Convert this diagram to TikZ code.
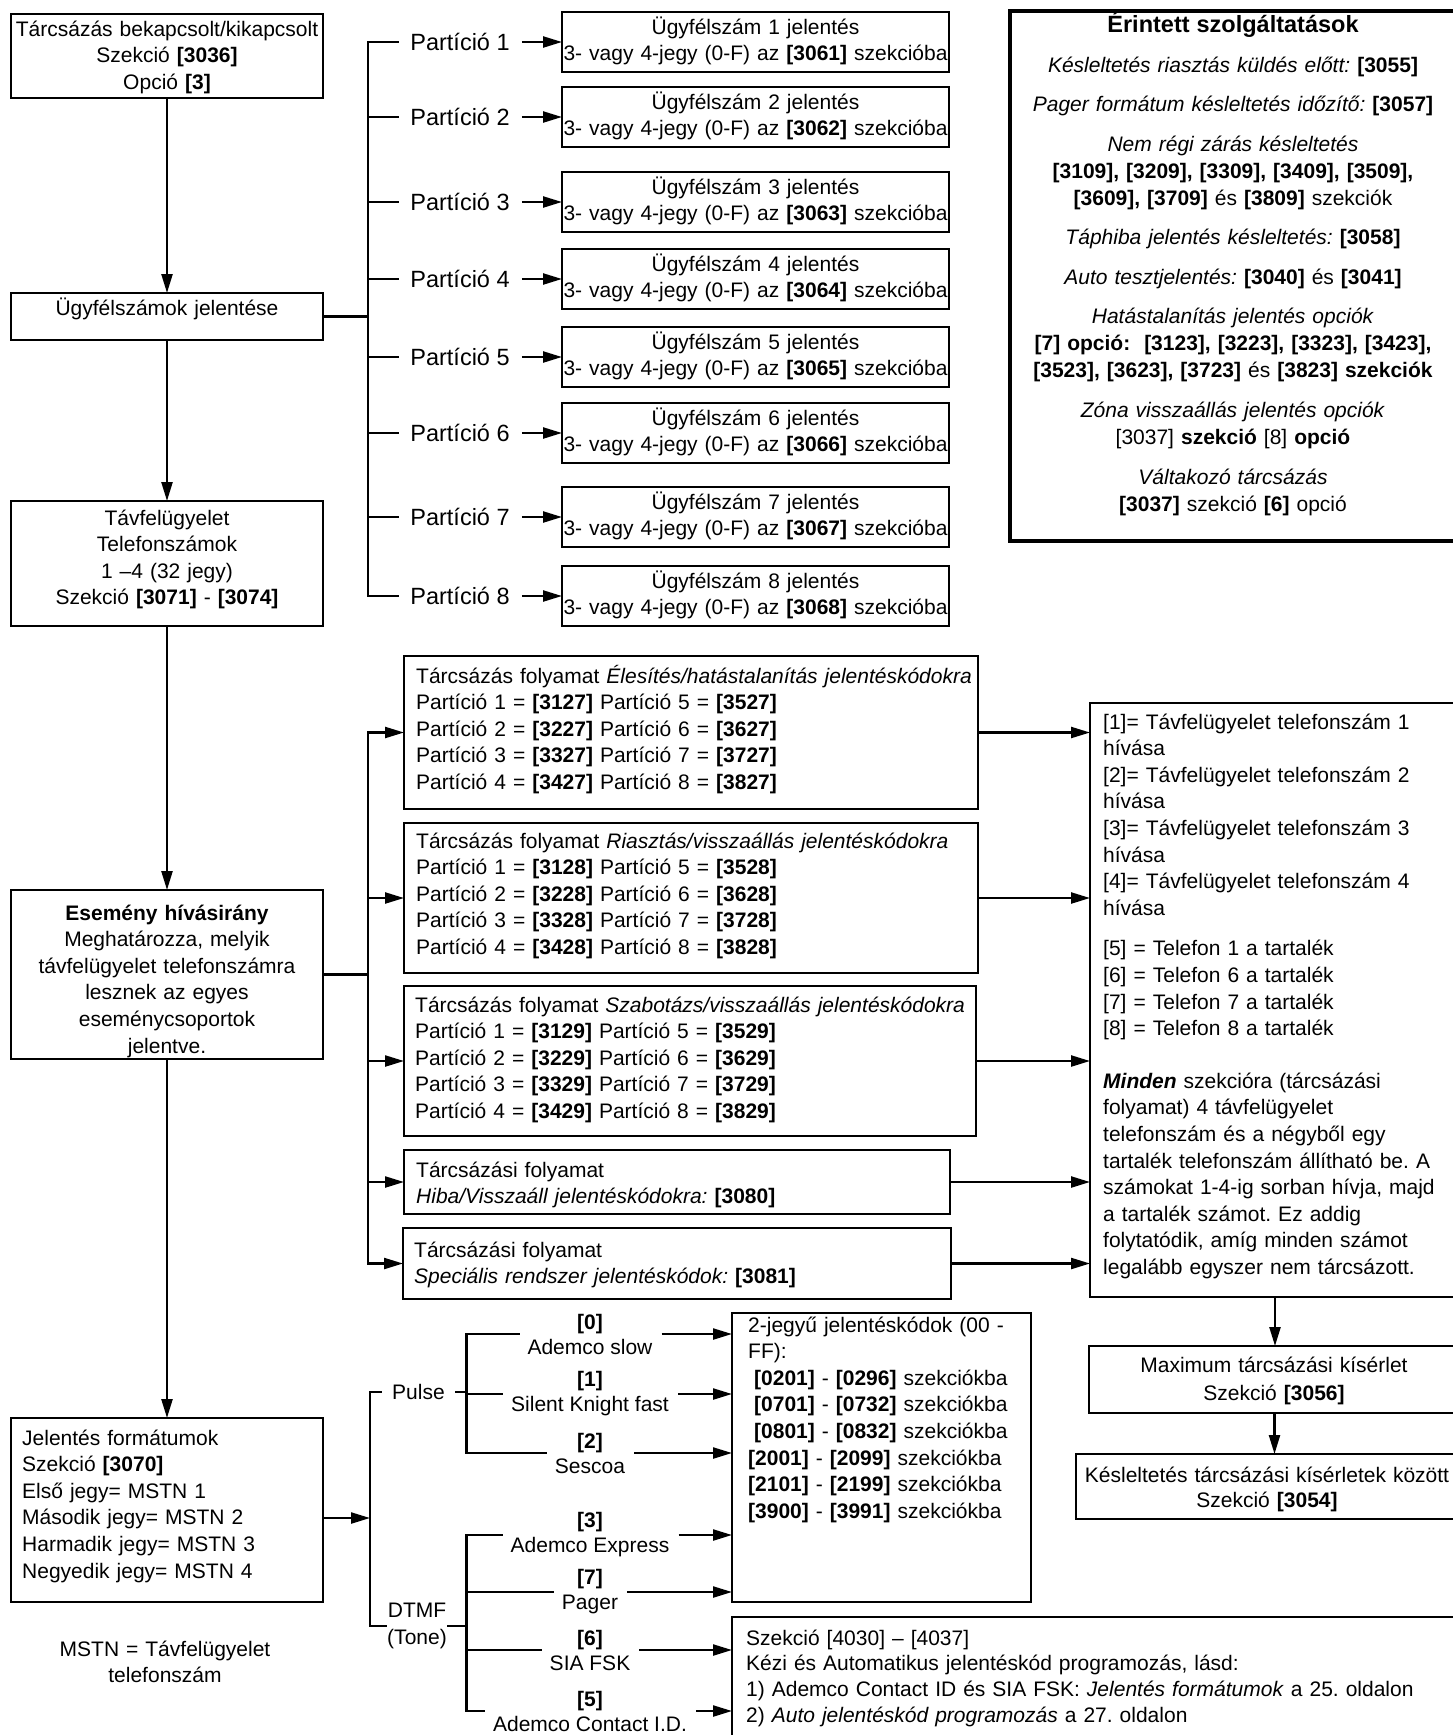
\documentclass[tikz,border=0pt]{standalone}
\usepackage{fontspec}
\setmainfont{Liberation Sans}
\usetikzlibrary{arrows.meta}
\frenchspacing
\newcommand{\fsN}{\fontsize{21pt}{26.6pt}\selectfont}
\newcommand{\fsL}{\fontsize{23.5pt}{28pt}\selectfont}
\tikzset{
  bx/.style={draw, line width=2.3pt, inner sep=0pt, outer sep=0pt},
  ln/.style={line width=2.3pt, line cap=rect},
  arr/.style={line width=2.3pt, -{Triangle[length=19pt,width=11pt]}},
  tc/.style={inner sep=0pt, font=\fsN, align=center, anchor=base},
  tl/.style={inner sep=0pt, font=\fsN, align=left, anchor=base west},
  plab/.style={inner ysep=0pt, inner xsep=12pt, font=\fsL},
  fmt/.style={inner ysep=0pt, inner xsep=9pt, font=\fontsize{21pt}{25pt}\selectfont, align=center},
}
\begin{document}
\frenchspacing
\begin{tikzpicture}[x=1pt,y=-1pt]
\useasboundingbox (0,0) rectangle (1453,1735);
\fill[white] (0,0) rectangle (1453,1735);

% ---------- left column ----------
\node[bx, minimum width=312pt, minimum height=84pt] (b1) at (167,56) {};
\node[tc, text width=320pt] (t1) at (167,36) {Tárcsázás bekapcsolt/kikapcsolt\\Szekció \textbf{[3036]}\\Opció \textbf{[3]}};
\node[bx, minimum width=312pt, minimum height=47pt] (b2) at (167,316.5) {};
\node[tc, text width=310pt] (t2) at (167,315) {Ügyfélszámok jelentése};
\node[bx, minimum width=312pt, minimum height=125pt] (b3) at (167,563.5) {};
\node[tc, text width=310pt] (t3) at (167,525) {Távfelügyelet\\Telefonszámok\\1 –4 (32 jegy)\\Szekció \textbf{[3071]} - \textbf{[3074]}};
\node[bx, minimum width=312pt, minimum height=169pt] (b4) at (167,974.5) {};
\node[tc, text width=310pt] (t4) at (167,920) {\textbf{Esemény hívásirány}\\Meghatározza, melyik\\távfelügyelet telefonszámra\\lesznek az egyes\\eseménycsoportok\\jelentve.};
\node[bx, minimum width=312pt, minimum height=184pt] (b5) at (167,1510) {};
\node[tl, text width=300pt] (t5) at (22,1445) {Jelentés formátumok\\Szekció \textbf{[3070]}\\Első jegy= MSTN 1\\Második jegy= MSTN 2\\Harmadik jegy= MSTN 3\\Negyedik jegy= MSTN 4};
\node[tc, text width=300pt] (mstn) at (165,1656) {MSTN = Távfelügyelet\\telefonszám};

\draw[arr] (b1) -- (b2);
\draw[arr] (b2) -- (b3);
\draw[arr] (b3) -- (b4);
\draw[arr] (b4) -- (b5);

% ---------- partitions ----------
\coordinate (bus1) at (368,0);
\foreach \i/\yy in {1/12,2/87,3/172,4/249,5/327,6/403,7/487,8/566}{
  \node[bx, minimum width=387pt, minimum height=60pt] (p\i) at (755.5,\yy+30) {};
  \node[tc, text width=390pt, font=\fontsize{21pt}{26pt}\selectfont] (tp\i) at (755.5,\yy+22) {Ügyfélszám \i{} jelentés\\3- vagy 4-jegy (0-F) az \textbf{[306\i]} szekcióba};
  \node[plab] (lp\i) at (460,\yy+30) {Partíció \i};
  \draw[ln] (bus1 |- lp\i) -- (lp\i.west);
  \draw[arr] (lp\i.east) -- (p\i.west);
}
\draw[ln] (bus1 |- lp1) -- (bus1 |- lp8);
\draw[ln] (b2.east) -- (b2.east -| bus1);

% ---------- services box ----------
\node[draw, line width=3.5pt, inner sep=0pt, minimum width=460pt, minimum height=530pt] (eb) at (1240,276) {};
\node[tc, text width=440pt] (et) at (1233,32) {{\fsL\textbf{Érintett szolgáltatások}}\\[14pt]
\textit{Késleltetés riasztás küldés előtt:} \textbf{[3055]}\\[12pt]
\textit{Pager formátum késleltetés időzítő:} \textbf{[3057]}\\[14pt]
\textit{Nem régi zárás késleltetés}\\
\textbf{[3109], [3209], [3309], [3409], [3509],}\\
\textbf{[3609], [3709]} és \textbf{[3809]} szekciók\\[12.5pt]
\textit{Táphiba jelentés késleltetés:} \textbf{[3058]}\\[14pt]
\textit{Auto tesztjelentés:} \textbf{[3040]} és \textbf{[3041]}\\[12.5pt]
\textit{Hatástalanítás jelentés opciók}\\
\textbf{[7] opció:\ \ [3123], [3223], [3323], [3423],}\\
\textbf{[3523], [3623], [3723]} és \textbf{[3823] szekciók}\\[14pt]
\textit{Zóna visszaállás jelentés opciók}\\
{}[3037] \textbf{szekció} [8] \textbf{opció}\\[14pt]
\textit{Váltakozó tárcsázás}\\
\textbf{[3037]} szekció \textbf{[6]} opció};

% ---------- dialling boxes ----------
\coordinate (bus2) at (368,0);
\node[bx, minimum width=574pt, minimum height=153pt] (A) at (691,732.5) {};
\node[tl, text width=570pt] (tA) at (416,683) {Tárcsázás folyamat \textit{Élesítés/hatástalanítás jelentéskódokra}\\
Partíció 1 = \textbf{[3127]} Partíció 5 = \textbf{[3527]}\\
Partíció 2 = \textbf{[3227]} Partíció 6 = \textbf{[3627]}\\
Partíció 3 = \textbf{[3327]} Partíció 7 = \textbf{[3727]}\\
Partíció 4 = \textbf{[3427]} Partíció 8 = \textbf{[3827]}};
\node[bx, minimum width=574pt, minimum height=150pt] (B) at (691,898) {};
\node[tl, text width=570pt] (tB) at (416,848) {Tárcsázás folyamat \textit{Riasztás/visszaállás jelentéskódokra}\\
Partíció 1 = \textbf{[3128]} Partíció 5 = \textbf{[3528]}\\
Partíció 2 = \textbf{[3228]} Partíció 6 = \textbf{[3628]}\\
Partíció 3 = \textbf{[3328]} Partíció 7 = \textbf{[3728]}\\
Partíció 4 = \textbf{[3428]} Partíció 8 = \textbf{[3828]}};
\node[bx, minimum width=572pt, minimum height=150pt] (C) at (690,1061) {};
\node[tl, text width=570pt] (tC) at (415,1012) {Tárcsázás folyamat \textit{Szabotázs/visszaállás jelentéskódokra}\\
Partíció 1 = \textbf{[3129]} Partíció 5 = \textbf{[3529]}\\
Partíció 2 = \textbf{[3229]} Partíció 6 = \textbf{[3629]}\\
Partíció 3 = \textbf{[3329]} Partíció 7 = \textbf{[3729]}\\
Partíció 4 = \textbf{[3429]} Partíció 8 = \textbf{[3829]}};
\node[bx, minimum width=546pt, minimum height=64pt] (D) at (677,1182) {};
\node[tl, text width=540pt] (tD) at (416,1177) {Tárcsázási folyamat\\\textit{Hiba/Visszaáll jelentéskódokra:} \textbf{[3080]}};
\node[bx, minimum width=548pt, minimum height=71pt] (E) at (677,1263.5) {};
\node[tl, text width=540pt] (tE) at (414,1257) {Tárcsázási folyamat\\\textit{Speciális rendszer jelentéskódok:} \textbf{[3081]}};

\foreach \nn in {A,B,C,D,E} \draw[arr] (\nn.west -| bus2) -- (\nn.west);
\draw[ln] (A.west -| bus2) -- (E.west -| bus2);
\draw[ln] (b4.east) -- (b4.east -| bus2);

% ---------- right column ----------
\node[bx, minimum width=370pt, minimum height=594pt] (rb) at (1275,1000) {};
\node[tl, text width=360pt] (trb) at (1103,729) {{}[1]= Távfelügyelet telefonszám 1\\hívása\\
{}[2]= Távfelügyelet telefonszám 2\\hívása\\
{}[3]= Távfelügyelet telefonszám 3\\hívása\\
{}[4]= Távfelügyelet telefonszám 4\\hívása\\[14pt]
{}[5] = Telefon 1 a tartalék\\
{}[6] = Telefon 6 a tartalék\\
{}[7] = Telefon 7 a tartalék\\
{}[8] = Telefon 8 a tartalék\\[26pt]
\textbf{\textit{Minden}} szekcióra (tárcsázási\\
folyamat) 4 távfelügyelet\\
telefonszám és a négyből egy\\
tartalék telefonszám állítható be. A\\
számokat 1-4-ig sorban hívja, majd\\
a tartalék számot. Ez addig\\
folytatódik, amíg minden számot\\
legalább egyszer nem tárcsázott.};
\foreach \nn in {A,B,C,D,E} \draw[arr] (\nn.east) -- (\nn.east -| rb.west);

\node[bx, minimum width=371pt, minimum height=67pt] (mx) at (1274.5,1379.5) {};
\node[tc, text width=370pt, font=\fontsize{21pt}{28pt}\selectfont] (tmx) at (1274,1372) {Maximum tárcsázási kísérlet\\Szekció \textbf{[3056]}};
\node[bx, minimum width=384pt, minimum height=65pt] (kb) at (1268,1486.5) {};
\node[tc, text width=380pt, font=\fontsize{21pt}{25pt}\selectfont] (tkb) at (1267,1482) {Késleltetés tárcsázási kísérletek között\\Szekció \textbf{[3054]}};
\draw[arr] (rb.south) -- (rb.south |- mx.north);
\draw[arr] (mx.south) -- (mx.south |- kb.north);

% ---------- formats ----------
\node[bx, minimum width=299pt, minimum height=289pt] (cb) at (881.5,1457.5) {};
\node[tl, text width=290pt] (tcb) at (748,1332) {2-jegyű jelentéskódok (00 -\\FF):\\
\hspace*{6pt}\textbf{[0201]} - \textbf{[0296]} szekciókba\\
\hspace*{6pt}\textbf{[0701]} - \textbf{[0732]} szekciókba\\
\hspace*{6pt}\textbf{[0801]} - \textbf{[0832]} szekciókba\\
\textbf{[2001]} - \textbf{[2099]} szekciókba\\
\textbf{[2101]} - \textbf{[2199]} szekciókba\\
\textbf{[3900]} - \textbf{[3991]} szekciókba};
\node[bx, minimum width=728pt, minimum height=143pt] (sb) at (1096,1688.5) {};
\node[tl, text width=700pt, font=\fontsize{21pt}{25.7pt}\selectfont] (tsb) at (746,1645) {Szekció [4030] – [4037]\\
Kézi és Automatikus jelentéskód programozás, lásd:\\
1) Ademco Contact ID és SIA FSK: \textit{Jelentés formátumok} a 25. oldalon\\
2) \textit{Auto jelentéskód programozás} a 27. oldalon};

\coordinate (bus3) at (370,0);
\coordinate (bus4) at (466.5,0);
\draw[arr] ([yshift=-8pt]b5.east) -- ([yshift=-8pt]b5.east -| bus3);
\node[inner ysep=0pt, inner xsep=11pt, font=\fsN] (pulse) at (418.5,1392) {Pulse};
\node[inner ysep=0pt, inner xsep=1.5pt, font=\fsN, align=center] (dtmf) at (417,1626) {DTMF\\(Tone)};
\draw[ln] (bus3 |- pulse) -- (pulse.west);
\draw[ln] (bus3 |- dtmf) -- (dtmf.west);
\draw[ln] (bus3 |- pulse) -- (bus3 |- dtmf);
\draw[ln] (pulse.east) -- (bus4 |- pulse);
\draw[ln] (dtmf.east) -- (bus4 |- dtmf);

\foreach \nn/\yy/\lbl/\tg in {0/1334/Ademco slow/cb,1/1394/Silent Knight fast/cb,2/1453/Sescoa/cb,3/1535/Ademco Express/cb,7/1592/Pager/cb,6/1650/SIA FSK/sb,5/1711/Ademco Contact I.D./sb}{
  \node[fmt] (f\nn) at (590,\yy) {\textbf{[\nn]}\\\lbl};
  \draw[ln] (bus4 |- f\nn) -- (f\nn.west);
  \draw[arr] (f\nn.east) -- (f\nn.east -| \tg.west);
}
\draw[ln] (bus4 |- f0) -- (bus4 |- f2);
\draw[ln] (bus4 |- f3) -- (bus4 |- f5);
\end{tikzpicture}
\end{document}
